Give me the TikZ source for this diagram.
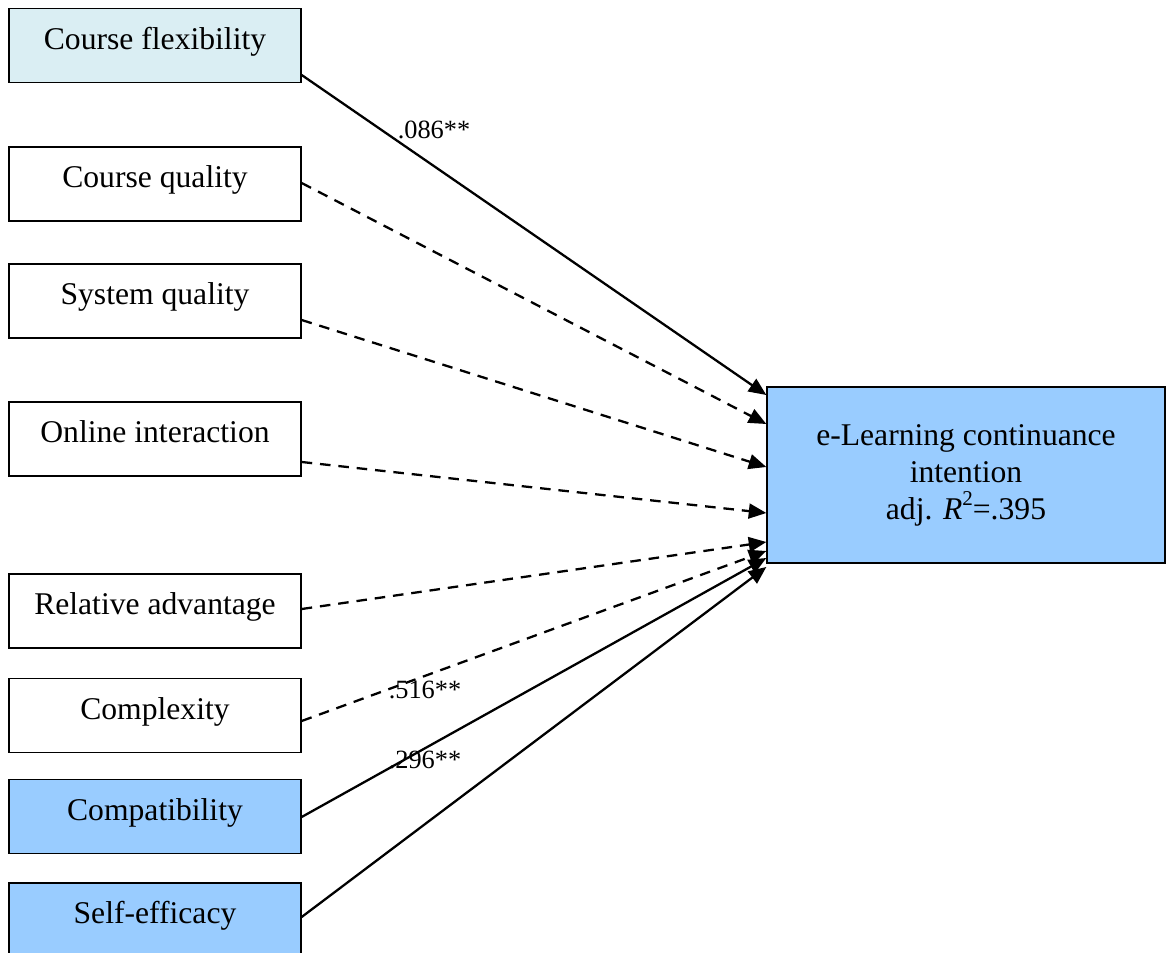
\documentclass[tikz,border=0pt]{standalone}
\usepackage{fontspec}
\setmainfont{Liberation Serif}
\usetikzlibrary{arrows.meta,calc}
\definecolor{paleblue}{HTML}{DAEEF3}
\definecolor{midblue}{HTML}{99CCFF}
\begin{document}
\begin{tikzpicture}[x=0.02cm,y=-0.02cm,>={Triangle[length=10pt,width=8.5pt]},
        var/.style={draw,line width=0.8pt,minimum width=5.84cm,minimum height=1.48cm,inner sep=0pt,
            font=\fontsize{18}{21}\selectfont,text height=0.7em,text depth=0.25em},
        effect/.style={->,line width=1.3pt},
        noeffect/.style={effect,dash pattern=on 6pt off 4.5pt},
        coef/.style={font=\fontsize{15}{18}\selectfont,inner sep=0pt}]
        \clip (0,0) rectangle (1167,953);
        \node[var,fill=paleblue] (flex) at (155,45.5){Course flexibility};
        \node[var] (cqual) at (155,184){Course quality};
        \node[var] (squal) at (155,301){System quality};
        \node[var] (inter) at (155,439){Online interaction};
        \node[var] (radv) at (155,611){Relative advantage};
        \node[var] (cplx) at (155,715.5){Complexity};
        \node[var,fill=midblue] (compat) at (155,816.5){Compatibility};
        \node[var,fill=midblue] (selfeff) at (155,920){Self-efficacy};
        \node[draw,line width=0.8pt,fill=midblue,minimum width=7.96cm,minimum height=3.52cm,align=center,
            font=\fontsize{18}{21}\selectfont] (eli) at (966,475)
            {e-Learning continuance\\intention\\adj. \textit{R}\raisebox{0.95ex}{\fontsize{12}{14}\selectfont 2}=.395};
        \draw[effect] ($(flex.east)+(0,29.5)$) -- ($(eli.west)+(0,-80)$);
        \draw[noeffect] ($(cqual.east)+(0,-1)$) -- ($(eli.west)+(0,-51)$);
        \draw[noeffect] ($(squal.east)+(0,19)$) -- ($(eli.west)+(0,-8)$);
        \draw[noeffect] ($(inter.east)+(0,23)$) -- ($(eli.west)+(0,38)$);
        \draw[noeffect] ($(radv.east)+(0,-2)$) -- ($(eli.west)+(0,67)$);
        \draw[noeffect] ($(cplx.east)+(0,5.5)$) -- ($(eli.west)+(0,76)$);
        \draw[effect] ($(compat.east)+(0,0.5)$) -- ($(eli.west)+(0,83)$);
        \draw[effect] ($(selfeff.east)+(0,-3)$) -- ($(eli.west)+(0,92)$);
        \node[coef] (bflex) at (434,130){.086**};
        \node[coef] (bcompat) at (425,690){.516**};
        \node[coef] (bself) at (425,760){.296**};
    \end{tikzpicture}
\end{document}
